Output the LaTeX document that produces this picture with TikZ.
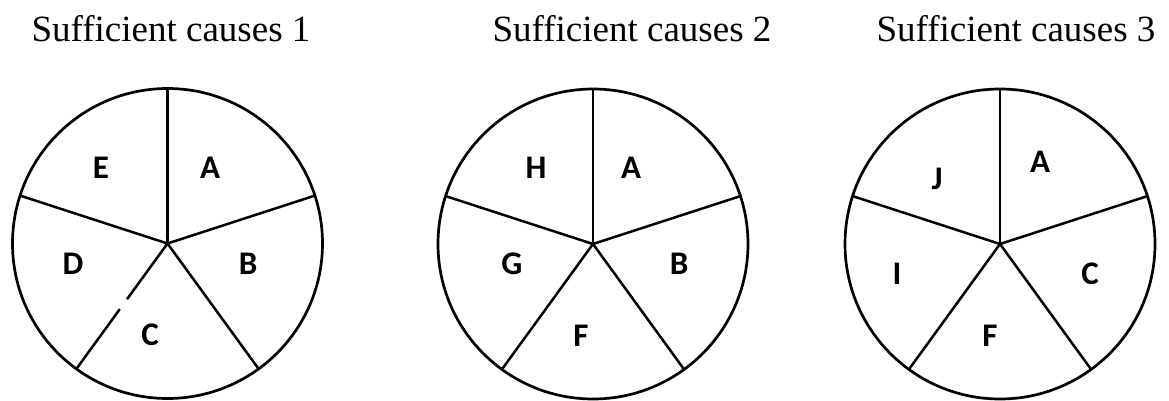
\documentclass[tikz,border=0pt]{standalone}
\usepackage{fontspec}
\usetikzlibrary{calc}
\setmainfont{Liberation Serif}
\newfontfamily\labfont{Carlito}
\begin{document}
\begin{tikzpicture}[x=1pt,y=-1pt,
  ring/.style={line width=2.7pt},
  spoke/.style={line width=2.5pt},
  ttl/.style={anchor=base,inner sep=0pt,font=\fontsize{37}{44}\selectfont},
  lab/.style={anchor=base,inner sep=0pt,font=\labfont\bfseries\fontsize{33}{39}\selectfont}]
\useasboundingbox (0,0) rectangle (1169,401);
\coordinate (c1) at (167.5,243.5);
\coordinate (c2) at (593,244);
\coordinate (c3) at (1000,244);
\foreach \c in {c1,c2,c3}{
  \draw[ring] (\c) circle[radius=155pt];
  \foreach \a in {90,18,-54,-126,162}
    \draw[spoke] (\c) -- ++(\a:155pt);
}
% small break in the lower-left spoke of the first circle
\draw[white,line width=4pt] ($(c1)+(-126:69pt)$) -- ($(c1)+(-126:81pt)$);
\node[ttl] (t1) at (171,41.5) {Sufficient causes 1};
\node[ttl] (t2) at (632,41.5) {Sufficient causes 2};
\node[ttl] (t3) at (1016,41.5) {Sufficient causes 3};
% circle 1
\node[lab] (e1) at (101,178) {E};
\node[lab] (a1) at (210,178) {A};
\node[lab] (d1) at (73,274) {D};
\node[lab] (b1) at (248,274) {B};
\node[lab] (cc1) at (150,345) {C};
% circle 2
\node[lab] (h2) at (536,178) {H};
\node[lab] (a2) at (631,178) {A};
\node[lab] (g2) at (512,274) {G};
\node[lab] (b2) at (679,274) {B};
\node[lab] (f2) at (581,346) {F};
% circle 3
\node[lab] (j3) at (937,189) {J};
\node[lab] (a3) at (1040,172) {A};
\node[lab] (i3) at (897,284) {I};
\node[lab] (cc3) at (1090,284) {C};
\node[lab] (f3) at (990,346) {F};
\end{tikzpicture}
\end{document}
